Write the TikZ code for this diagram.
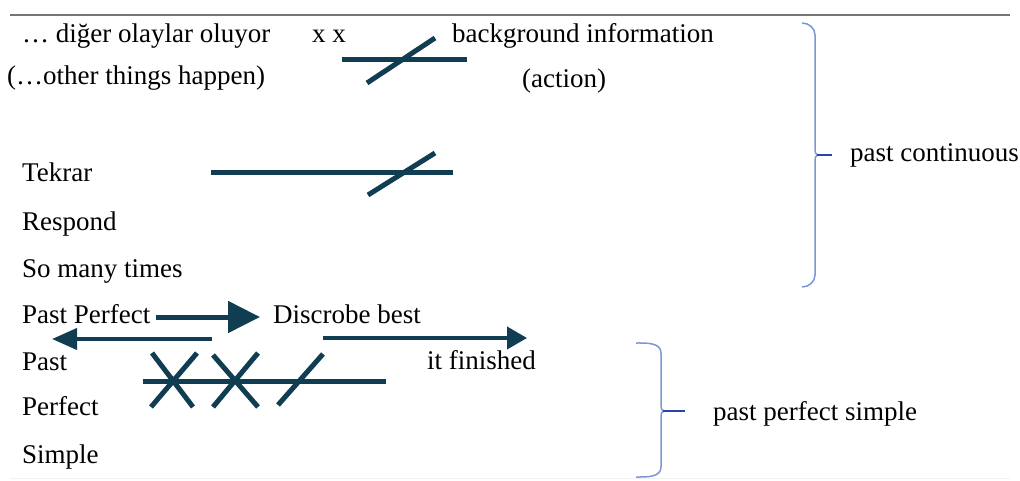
\documentclass[tikz,border=0pt]{standalone}
\usepackage{fontspec}
\setmainfont{Liberation Serif}
\usepackage{tikz}
\usetikzlibrary{arrows.meta,calc}

\definecolor{linecol}{RGB}{16,61,82}
\definecolor{rulecol}{RGB}{118,118,118}
\definecolor{bracecol}{RGB}{122,152,212}
\definecolor{bracetip}{RGB}{40,70,170}

\begin{document}
\begin{tikzpicture}[x=1pt,y=-1pt,
		txt/.style={anchor=base west,inner sep=0pt,font=\fontsize{27}{32}\selectfont},
		timeline/.style={draw=linecol,line width=5pt},
		strike/.style={draw=linecol,line width=5pt},
		bigarrow/.style={draw=linecol,line width=5pt,-{Triangle[length=32pt,width=31pt]}},
		thinarrow/.style={draw=linecol,line width=4pt},
		brace/.style={draw=bracecol,line width=1.5pt},
		bracetick/.style={draw=bracetip,line width=2pt}]
			\useasboundingbox (0,0) rectangle (1020,481);
			\draw[rulecol,line width=1.5pt] (10,15) -- (1010,15);
			\draw[gray!10,line width=1pt] (10,478) -- (1010,478);
			% texts
			\node[txt] (olay) at (22,43) {… diğer olaylar oluyor};
			\node[txt] (xx) at (312,43) {x x};
			\node[txt] (bginfo) at (452,43) {background information};
			\node[txt] (other) at (7,85) {(…other things happen)};
			\node[txt] (action) at (522,88) {(action)};
			\node[txt] (tekrar) at (22,182) {Tekrar};
			\node[txt] (respond) at (22,230) {Respond};
			\node[txt] (manytimes) at (22,277) {So many times};
			\node[txt] (pastperf) at (22,323) {Past Perfect};
			\node[txt] (discrobe) at (273,323) {Discrobe best};
			\node[txt] (past) at (22,370) {Past};
			\node[txt] (finished) at (427,369) {it finished};
			\node[txt] (perfect) at (22,415) {Perfect};
			\node[txt] (simple) at (22,463) {Simple};
			\node[txt] (pcont) at (850,162) {past continuous};
			\node[txt] (ppsimple) at (713,420) {past perfect simple};
			% first line
			\coordinate (l1a) at (342,60);
			\coordinate (l1b) at (467,60);
			\coordinate (s1a) at (367,83);
			\coordinate (s1b) at (435,38);
			\draw[timeline] (l1a) -- (l1b);
			\draw[strike] (s1a) -- (s1b);
			% second line
			\coordinate (l2a) at (211,173);
			\coordinate (l2b) at (453,173);
			\coordinate (s2a) at (368,195);
			\coordinate (s2b) at (435,153);
			\draw[timeline] (l2a) -- (l2b);
			\draw[strike] (s2a) -- (s2b);
			% arrows
			\coordinate (a1a) at (156,317);
			\coordinate (a1b) at (260,317);
			\draw[bigarrow] (a1a) -- (a1b);
			\coordinate (a2a) at (212,339);
			\coordinate (a2b) at (52,339);
			\draw[thinarrow,-{Triangle[length=25pt,width=21pt]}] (a2a) -- (a2b);
			\coordinate (a3a) at (323,338);
			\coordinate (a3b) at (527,338);
			\draw[thinarrow,-{Triangle[length=20pt,width=22pt]}] (a3a) -- (a3b);
			% third line with crosses
			\coordinate (l3a) at (143,381);
			\coordinate (l3b) at (386,381);
			\draw[timeline] (l3a) -- (l3b);
			\draw[strike] (152,353) -- (193,407) (197,353) -- (151,407);
			\draw[strike] (213,355) -- (258,407) (258,353) -- (213,407);
			\draw[strike] (278,405) -- (323,354);
			% braces
			\draw[brace] (802,23) to[out=0,in=90] (815,35) -- (815,150)
				to[out=-90,in=180] (818,155) to[out=180,in=90] (815,160)
				-- (815,275) to[out=-90,in=0] (802,287);
			\draw[bracetick] (817,155) -- (832,155);
			\draw[brace] (636,343) to[out=0,in=90] (661,353) -- (661,406)
				to[out=-90,in=180] (664,411) to[out=180,in=90] (661,416)
				-- (661,467) to[out=-90,in=0] (636,477);
			\draw[bracetick] (663,411) -- (685,411);
		\end{tikzpicture}
\end{document}
